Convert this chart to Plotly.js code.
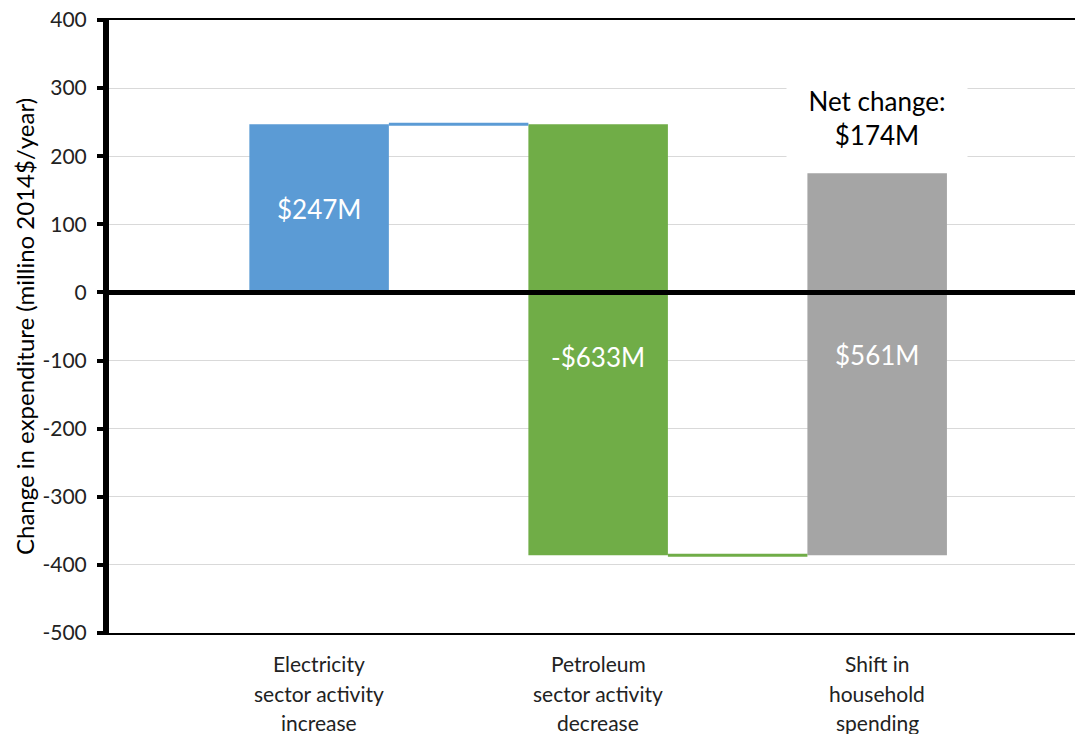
<!DOCTYPE html>
<html>
<head>
<meta charset="utf-8">
<script src="https://cdn.plot.ly/plotly-3.0.1.min.js"></script>
<style>html,body{margin:0;padding:0;background:#fff}#chart{width:1075px;height:734px}</style>
</head>
<body>
<div id="chart"></div>
<script>
// ---- data ----
const categories = ["Electricity sector activity increase", "Petroleum sector activity decrease", "Shift in household spending"];
const categoryLines = [["Electricity", "sector activity", "increase"], ["Petroleum", "sector activity", "decrease"], ["Shift in", "household", "spending"]];
const changes = [247, -633, 561];
const barColors = ["#5B9BD5", "#70AD47", "#A5A5A5"];
const netChange = 174;
const yTicks = [-500, -400, -300, -200, -100, 0, 100, 200, 300, 400];

// ---- derived ----
const xs = categories.map((c, i) => i);
const bases = [];
let run = 0;
changes.forEach(v => { bases.push(run); run += v; });
const ends = changes.map((v, i) => bases[i] + v);
const labels = changes.map(v => (v < 0 ? "-$" : "$") + Math.abs(v) + "M");
const labelY = [123, -95, -92];
const FONT = "Lato, 'Open Sans', sans-serif";

const traces = [{
  type: "bar", x: xs, y: changes, base: bases, width: 0.5,
  marker: {color: barColors, line: {width: 0}},
  hoverinfo: "skip", showlegend: false
}];
// connectors
for (let i = 0; i < changes.length - 1; i++) {
  traces.push({
    type: "scatter", mode: "lines", x: [xs[i] + 0.25, xs[i + 1] - 0.25], y: [ends[i], ends[i]],
    line: {color: barColors[i], width: 3}, hoverinfo: "skip", showlegend: false
  });
}

const annotations = [];
labels.forEach((t, i) => annotations.push({
  x: xs[i], y: labelY[i], xref: "x", yref: "y", text: t, showarrow: false,
  font: {family: FONT, size: 26, color: "#ffffff"}
}));
annotations.push({
  x: xs[2], y: 256, xref: "x", yref: "y", text: "Net change:<br>$" + netChange + "M", showarrow: false,
  font: {family: FONT, size: 26, color: "#000000"}, bgcolor: "#ffffff", borderpad: 6, width: 168
});
categoryLines.forEach((lines, i) => lines.forEach((ln, j) => annotations.push({
  x: xs[i], y: -0.05 - j * 0.048, xref: "x", yref: "paper", yanchor: "middle", text: ln, showarrow: false,
  font: {family: FONT, size: 21, color: "#222222"}
})));

const layout = {
  width: 1075, height: 734,
  margin: {l: 109, r: 0, t: 20, b: 101},
  paper_bgcolor: "#ffffff", plot_bgcolor: "#ffffff",
  xaxis: {
    range: [-0.753, 2.709], showgrid: false, zeroline: false,
    showline: true, linecolor: "#000000", linewidth: 2, mirror: true,
    tickvals: xs, ticktext: categories, showticklabels: false, ticks: ""
  },
  yaxis: {
    range: [-500, 400], tickvals: yTicks, ticktext: yTicks.map(String),
    showgrid: true, gridcolor: "#d9d9d9", gridwidth: 1, zeroline: false,
    showline: true, linecolor: "#000000", linewidth: 6,
    ticks: "outside", ticklen: 6, tickwidth: 4, tickcolor: "#000000",
    ticklabelstandoff: 6,
    tickfont: {family: FONT, size: 21, color: "#222222"},
    title: {text: "Change in expenditure (millino 2014$/year)", standoff: 3,
            font: {family: FONT, size: 24, color: "#000000"}}
  },
  shapes: [{type: "line", xref: "paper", yref: "y", x0: 0, x1: 1, y0: 0, y1: 0,
            line: {color: "#000000", width: 5}, layer: "above"}],
  annotations: annotations
};

Plotly.newPlot("chart", traces, layout, {displayModeBar: false, staticPlot: true});
</script>
</body>
</html>
